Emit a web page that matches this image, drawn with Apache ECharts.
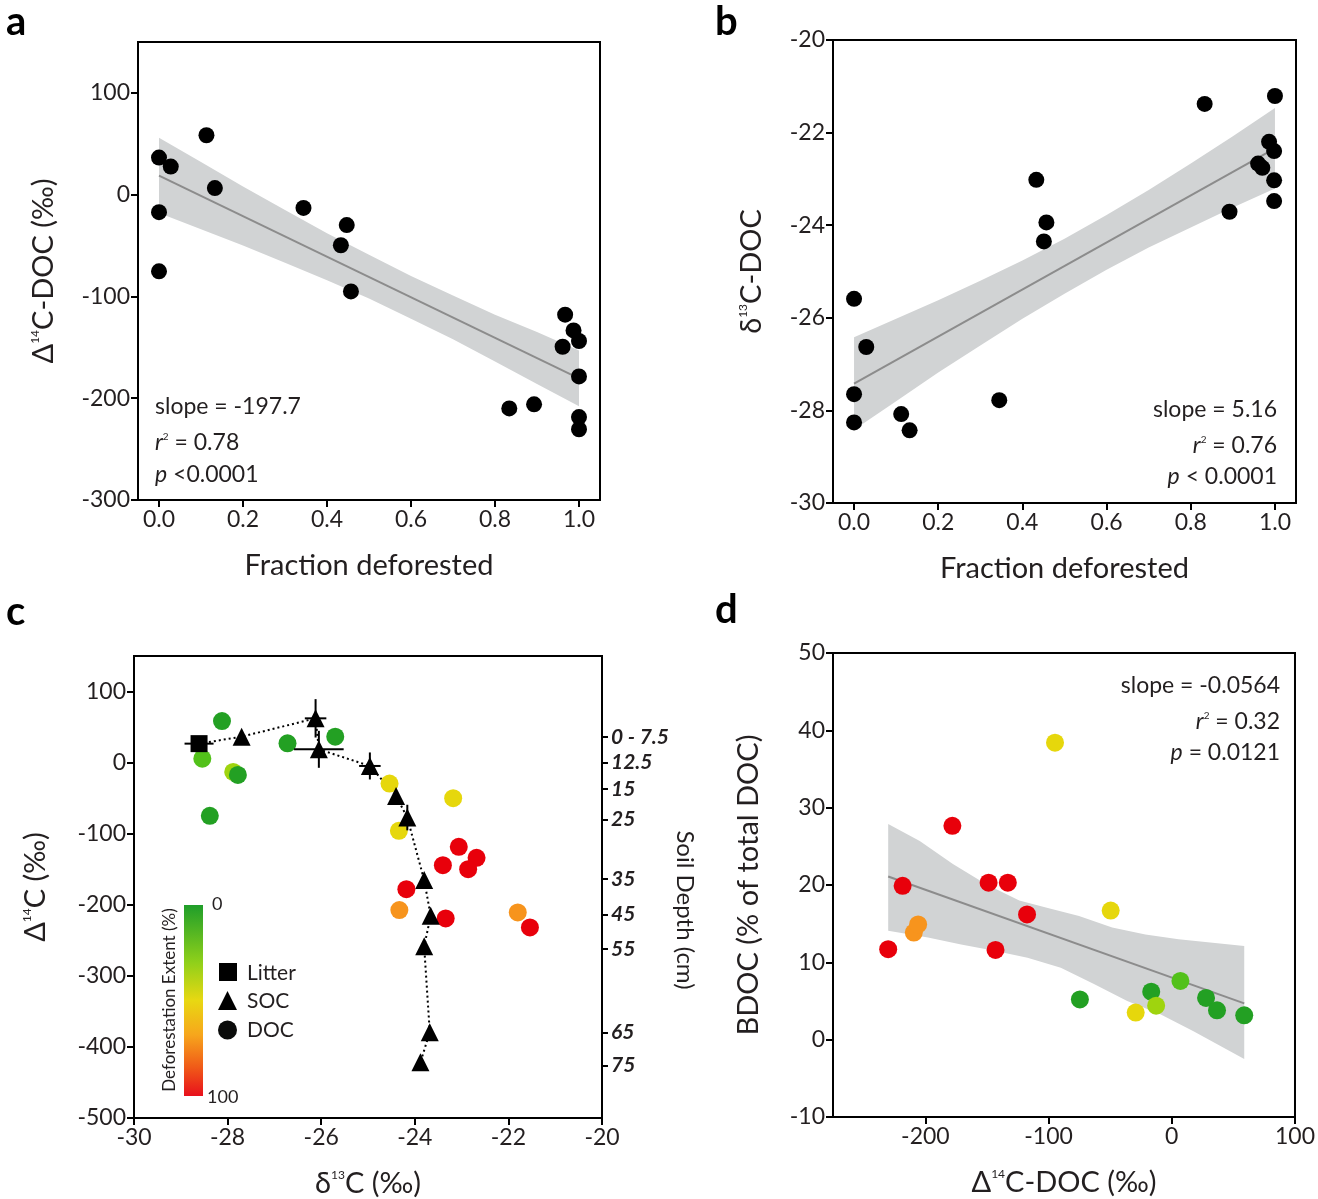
<!DOCTYPE html>
<html><head><meta charset="utf-8">
<script src="https://cdn.jsdelivr.net/npm/echarts@6.0.0/dist/echarts.min.js"></script>
<style>html,body{margin:0;padding:0;background:#fff}#c{width:1318px;height:1199px}</style>
</head><body><div id="c"></div>
<script>
// ---------- Panel a: fraction deforested vs Δ14C-DOC ----------
const fracA = [0, 0.028, 0.113, 0.133, 0, 0, 0.344, 0.447, 0.433, 0.457, 0.967, 0.987, 1, 0.961, 1, 0.834, 0.893, 1, 1];
const d14cA = [36.4, 27.6, 58.4, 6.5, -17.2, -75.3, -13, -29.9, -49.7, -95.1, -117.9, -133.4, -143.8, -149.4, -178.6, -210, -206, -218.5, -230.5];
const fitAX = [0, 1];
const fitAY = [18.8, -180.5];
const bandAX = [0, 0.1, 0.2, 0.3, 0.4, 0.5, 0.6, 0.7, 0.8, 0.9, 1.0];
const bandAUp = [56, 32, 8, -15, -38, -59, -80, -99, -118, -135, -153];
const bandALo = [-18, -34, -50, -67, -84, -102, -122, -142, -164, -186, -208];
const ticksAX = [0, 0.2, 0.4, 0.6, 0.8, 1.0];
const ticksAY = [-300, -200, -100, 0, 100];

// ---------- Panel b: fraction deforested vs δ13C-DOC ----------
const fracB = [0.833, 1.0, 0.986, 0.998, 0.96, 0.97, 0.998, 0.998, 0.892, 0.433, 0.457, 0.451, 0, 0.029, 0, 0, 0.112, 0.132, 0.345];
const d13cB = [-21.38, -21.21, -22.2, -22.4, -22.67, -22.76, -23.03, -23.48, -23.71, -23.02, -23.94, -24.35, -25.59, -26.63, -27.65, -28.26, -28.08, -28.43, -27.78];
const fitBX = [0, 1];
const fitBY = [-27.42, -22.34];
const bandBX = [0, 0.1, 0.2, 0.3, 0.4, 0.5, 0.6, 0.7, 0.8, 0.9, 1.0];
const bandBUp = [-26.42, -26.02, -25.62, -25.20, -24.76, -24.29, -23.78, -23.24, -22.67, -22.08, -21.47];
const bandBLo = [-28.42, -27.80, -27.18, -26.60, -26.02, -25.48, -24.96, -24.48, -24.05, -23.62, -23.21];
const ticksBX = [0, 0.2, 0.4, 0.6, 0.8, 1.0];

// ---------- Panel c: δ13C vs Δ14C ----------
const docD13C = [-28.12, -25.70, -26.72, -28.54, -27.88, -27.78, -28.38, -24.54, -23.18, -24.34, -23.06, -22.68, -23.4, -22.86, -24.18, -24.33, -23.34, -21.8, -21.54];
const docD14C = [58.5, 36.5, 27.2, 5.6, -13.1, -17.3, -74.9, -29.5, -50.1, -96, -118.5, -134, -144.3, -149.9, -178, -207.5, -219.2, -210.8, -231.9];
const docDefor = [11, 0, 3, 13, 34, 0, 0, 45, 43, 46, 97, 99, 100, 96, 100, 89, 100, 83, 100];
const socD13C = [-27.70, -26.12, -26.05, -24.96, -24.4, -24.16, -23.8, -23.66, -23.8, -23.68, -23.88];
const socD14C = [36.5, 62.3, 18.7, -4.7, -46.8, -77.3, -165.3, -215.5, -258.5, -379.4, -421.5];
const socErrX = [0, 0.23, 0.53, 0.23, 0, 0, 0, 0, 0, 0, 0];
const socErrY = [0, 27, 26, 19, 0, 18, 0, 0, 0, 0, 0];
const litterD13C = [-28.61];
const litterD14C = [26.7];
const litterErrX = [0.31];
const depthLabels = ['0 - 7.5', '12.5', '15', '25', '35', '45', '55', '65', '75'];
const depthPos = [36, 0, -37, -80, -164, -214, -262, -380, -426];
const ticksCY = [-500, -400, -300, -200, -100, 0, 100];

// ---------- Panel d: Δ14C-DOC vs BDOC ----------
const bdocD14C = [-230.2, -218.5, -209.4, -205.9, -178.1, -148.7, -133.1, -143.1, -117.5, -94.8, -49.6, -29.3, -74.6, -16.7, -12.7, 7.0, 27.8, 36.7, 58.8];
const bdoc = [11.7, 19.9, 13.85, 14.9, 27.65, 20.3, 20.3, 11.6, 16.2, 38.4, 16.7, 3.5, 5.2, 6.2, 4.4, 7.6, 5.4, 3.8, 3.15];
const bdocDefor = [100, 100, 83, 89, 100, 96, 99, 100, 97, 46, 43, 45, 0, 0, 34, 13, 3, 0, 11];
const fitDX = [-230.2, 58.8];
const fitDY = [21.1, 4.7];
const bandDUpX = [-230.2, -204.6, -177.7, -150.7, -123.8, -102.2, -75.3, -48.4, -21.4, 5.5, 58.8];
const bandDUp = [27.9, 25.7, 22.7, 20.1, 18.0, 17.1, 16.0, 14.5, 13.6, 13.0, 12.1];
const bandDLoX = [-230.2, -197.9, -171, -144, -117.1, -90.1, -63.2, -36.2, -9.3, 17.6, 58.8];
const bandDLo = [14.1, 13.2, 12.3, 11.5, 10.6, 9.3, 7.2, 5.0, 3.3, 1.1, -2.5];
const ticksDX = [-200, -100, 0, 100];

// ---------- helpers ----------
const FONT = 'Lato';
const INK = '#231f20';
const BAND = '#d1d3d4';
const FIT = '#8c8c8c';
const TICK_FS = 23;
const NAME_FS = 29;
const zip = (...arrs) => arrs[0].map((_, i) => arrs.map(a => a[i]));

const nameRich = {
  t: { fontSize: NAME_FS, fontFamily: FONT, color: INK },
  s: { fontSize: 12, fontFamily: FONT, color: INK, verticalAlign: 'top', padding: [0, 0, 16, 0] }
};

function tickStyle(custom) {
  const t = { show: true, length: 7, lineStyle: { color: '#000', width: 2 } };
  if (custom) t.customValues = custom;
  return t;
}
function labelStyle(custom, fmt) {
  const l = { color: INK, fontSize: TICK_FS, fontFamily: FONT, margin: 8 };
  if (custom) l.customValues = custom;
  if (fmt) l.formatter = fmt;
  return l;
}

function axisBase(extra) {
  return Object.assign({
    type: 'value',
    axisLine: { show: true, onZero: false, lineStyle: { color: '#000', width: 2 } },
    axisTick: tickStyle(),
    axisLabel: labelStyle(),
    splitLine: { show: false },
    nameLocation: 'middle',
    nameTextStyle: { fontSize: NAME_FS, fontFamily: FONT, color: INK, rich: nameRich }
  }, extra);
}

function bandSeries(xi, yi, xsUp, up, xsLo, lo) {
  return {
    type: 'custom', xAxisIndex: xi, yAxisIndex: yi, silent: true, z: 1,
    data: [[xsUp[0], up[0]]],
    renderItem: function (params, api) {
      const pts = [];
      for (let i = 0; i < xsUp.length; i++) pts.push(api.coord([xsUp[i], up[i]]));
      for (let i = xsLo.length - 1; i >= 0; i--) pts.push(api.coord([xsLo[i], lo[i]]));
      return { type: 'polygon', shape: { points: pts }, style: { fill: BAND } };
    }
  };
}

function fitSeries(xi, yi, xs, ys) {
  return {
    type: 'line', xAxisIndex: xi, yAxisIndex: yi, data: zip(xs, ys), showSymbol: false, silent: true, z: 2,
    lineStyle: { color: FIT, width: 2 }
  };
}

const chart = echarts.init(document.getElementById('c'), null, { renderer: 'canvas' });

const option = {
  animation: false,
  backgroundColor: '#fff',
  grid: [
    { left: 138, top: 42, width: 462, height: 458, show: true, borderColor: '#000', borderWidth: 2, backgroundColor: 'transparent' },
    { left: 833, top: 40, width: 463, height: 463, show: true, borderColor: '#000', borderWidth: 2, backgroundColor: 'transparent' },
    { left: 134, top: 656, width: 468, height: 463, show: true, borderColor: '#000', borderWidth: 2, backgroundColor: 'transparent' },
    { left: 833, top: 653, width: 464, height: 464, show: true, borderColor: '#000', borderWidth: 2, backgroundColor: 'transparent' }
  ],
  xAxis: [
    axisBase({ gridIndex: 0, min: -0.05, max: 1.05, name: 'Fraction deforested', nameGap: 51,
      axisLabel: labelStyle(ticksAX, v => v.toFixed(1)), axisTick: tickStyle(ticksAX) }),
    axisBase({ gridIndex: 1, min: -0.05, max: 1.05, name: 'Fraction deforested', nameGap: 51,
      axisLabel: labelStyle(ticksBX, v => v.toFixed(1)), axisTick: tickStyle(ticksBX) }),
    axisBase({ gridIndex: 2, min: -30, max: -20, interval: 2, name: '{t|δ}{s|13}{t|C (‰)}', nameGap: 51 }),
    axisBase({ gridIndex: 3, min: -275, max: 100, name: '{t|Δ}{s|14}{t|C-DOC (‰)}', nameGap: 51,
      axisLabel: labelStyle(ticksDX), axisTick: tickStyle(ticksDX) })
  ],
  yAxis: [
    axisBase({ gridIndex: 0, min: -300, max: 150, name: '{t|Δ}{s|14}{t|C-DOC (‰)}', nameGap: 80,
      axisLabel: labelStyle(ticksAY), axisTick: tickStyle(ticksAY) }),
    axisBase({ gridIndex: 1, min: -30, max: -20, interval: 2, name: '{t|δ}{s|13}{t|C-DOC}', nameGap: 67 }),
    axisBase({ gridIndex: 2, min: -500, max: 150, name: '{t|Δ}{s|14}{t|C (‰)}', nameGap: 84,
      axisLabel: labelStyle(ticksCY), axisTick: tickStyle(ticksCY) }),
    axisBase({ gridIndex: 3, min: -10, max: 50, interval: 10, name: 'BDOC (% of total DOC)', nameGap: 70 }),
    axisBase({ gridIndex: 2, position: 'right', min: -500, max: 150, name: 'Soil Depth (cm)', nameGap: 62, nameRotate: -90,
      nameTextStyle: { fontSize: 24, fontFamily: FONT, color: INK, padding: [0, 0, 0, 46] },
      axisLabel: { color: INK, fontSize: 21, fontFamily: FONT, fontWeight: 'bold', fontStyle: 'italic', margin: 9,
        customValues: depthPos,
        formatter: v => { let b = 0; depthPos.forEach((p, i) => { if (Math.abs(p - v) < Math.abs(depthPos[b] - v)) b = i; }); return depthLabels[b]; } },
      axisTick: { show: true, length: 6, lineStyle: { color: '#000', width: 2 }, customValues: depthPos } })
  ],
  visualMap: [{
    type: 'piecewise', show: false, dimension: 2, seriesIndex: [8, 13],
    pieces: [
      { lte: 12, color: '#23a023' },
      { gt: 12, lte: 25, color: '#52c11a' },
      { gt: 25, lte: 40, color: '#9fd40e' },
      { gt: 40, lte: 70, color: '#e6d70c' },
      { gt: 70, lte: 93, color: '#f7941d' },
      { gt: 93, color: '#e8000b' }
    ]
  }],
  series: [
    // 0-2 panel a
    bandSeries(0, 0, bandAX, bandAUp, bandAX, bandALo),
    fitSeries(0, 0, fitAX, fitAY),
    { type: 'scatter', xAxisIndex: 0, yAxisIndex: 0, data: zip(fracA, d14cA), symbolSize: 16, itemStyle: { color: '#000', opacity: 1 }, z: 3 },
    // 3-5 panel b
    bandSeries(1, 1, bandBX, bandBUp, bandBX, bandBLo),
    fitSeries(1, 1, fitBX, fitBY),
    { type: 'scatter', xAxisIndex: 1, yAxisIndex: 1, data: zip(fracB, d13cB), symbolSize: 16, itemStyle: { color: '#000', opacity: 1 }, z: 3 },
    // 6 panel c dotted path litter -> SOC
    { type: 'line', xAxisIndex: 2, yAxisIndex: 2, showSymbol: false, silent: true, z: 2,
      data: zip(litterD13C.concat(socD13C), litterD14C.concat(socD14C)),
      lineStyle: { color: '#000', width: 2, type: [2, 3] } },
    // 7 error bars
    { type: 'custom', xAxisIndex: 2, yAxisIndex: 2, silent: true, z: 4,
      data: zip(socD13C, socD14C, socErrX, socErrY).concat(zip(litterD13C, litterD14C, litterErrX, [0])),
      encode: { x: 0, y: 1 },
      renderItem: function (params, api) {
        const x = api.value(0), y = api.value(1), ex = api.value(2), ey = api.value(3);
        const ch = [];
        if (ex > 0) { const a = api.coord([x - ex, y]), b = api.coord([x + ex, y]); ch.push({ type: 'line', shape: { x1: a[0], y1: a[1], x2: b[0], y2: b[1] }, style: { stroke: '#000', lineWidth: 2 } }); }
        if (ey > 0) { const a = api.coord([x, y - ey]), b = api.coord([x, y + ey]); ch.push({ type: 'line', shape: { x1: a[0], y1: a[1], x2: b[0], y2: b[1] }, style: { stroke: '#000', lineWidth: 2 } }); }
        return { type: 'group', children: ch };
      } },
    // 8 DOC circles
    { type: 'scatter', xAxisIndex: 2, yAxisIndex: 2, data: zip(docD13C, docD14C, docDefor), symbolSize: 18, itemStyle: { opacity: 1 }, z: 3 },
    // 9 SOC triangles
    { type: 'scatter', xAxisIndex: 2, yAxisIndex: 2, data: zip(socD13C, socD14C), symbol: 'triangle', symbolSize: 18, itemStyle: { color: '#000', opacity: 1 }, z: 5 },
    // 10 litter square
    { type: 'scatter', xAxisIndex: 2, yAxisIndex: 2, data: zip(litterD13C, litterD14C), symbol: 'rect', symbolSize: 17, itemStyle: { color: '#000', opacity: 1 }, z: 5 },
    // 11-13 panel d
    bandSeries(3, 3, bandDUpX, bandDUp, bandDLoX, bandDLo),
    fitSeries(3, 3, fitDX, fitDY),
    { type: 'scatter', xAxisIndex: 3, yAxisIndex: 3, data: zip(bdocD14C, bdoc, bdocDefor), symbolSize: 18, itemStyle: { opacity: 1 }, z: 3 }
  ],
  graphic: []
};

const statRich = {
  i: { fontStyle: 'italic', fontSize: 23, fontFamily: FONT, fill: INK },
  s: { fontSize: 10, fontFamily: FONT, fill: INK, verticalAlign: 'top', padding: [0, 0, 13, 0] },
  n: { fontSize: 23, fontFamily: FONT, fill: INK }
};
function txt(x, y, text, align) {
  return { type: 'text', x: x, y: y, silent: true, z: 100,
    style: { text: text, fill: INK, font: '23px ' + FONT, align: align || 'left', verticalAlign: 'middle', rich: statRich } };
}
function letter(x, y, t) {
  return { type: 'text', x: x, y: y, z: 100, style: { text: t, fill: '#000', font: 'bold 40px ' + FONT, align: 'left', verticalAlign: 'middle' } };
}
function plain(x, y, t, size, extra) {
  return Object.assign({ type: 'text', x: x, y: y, z: 100, style: { text: t, fill: INK, font: size + 'px ' + FONT, align: 'left', verticalAlign: 'middle' } }, extra || {});
}

option.graphic = [
  letter(6, 22, 'a'), letter(715, 22, 'b'), letter(6, 612, 'c'), letter(715, 610, 'd'),
  // panel a stats
  txt(155, 407, '{n|slope = -197.7}'),
  txt(155, 443, '{i|r}{s|2}{n| = 0.78}'),
  txt(155, 475, '{i|p}{n| <0.0001}'),
  // panel b stats
  txt(1277, 410, '{n|slope = 5.16}', 'right'),
  txt(1277, 446, '{i|r}{s|2}{n| = 0.76}', 'right'),
  txt(1277, 477, '{i|p}{n| < 0.0001}', 'right'),
  // panel d stats
  txt(1280, 686, '{n|slope = -0.0564}', 'right'),
  txt(1280, 722, '{i|r}{s|2}{n| = 0.32}', 'right'),
  txt(1280, 753, '{i|p}{n| = 0.0121}', 'right'),
  // panel c legend: colour bar
  { type: 'rect', z: 100, shape: { x: 184, y: 905, width: 19, height: 191 },
    style: { fill: { type: 'linear', x: 0, y: 0, x2: 0, y2: 1, colorStops: [
      { offset: 0, color: '#1f9e2a' }, { offset: 0.3, color: '#8fd01a' }, { offset: 0.5, color: '#e8d812' },
      { offset: 0.68, color: '#f7a61c' }, { offset: 0.85, color: '#f05a18' }, { offset: 1, color: '#e8101c' }] } } },
  plain(212, 904, '0', 18),
  plain(207, 1097, '100', 18),
  plain(170, 1000, 'Deforestation Extent (%)', 17, { rotation: Math.PI / 2 }),
  { type: 'rect', z: 100, shape: { x: 219, y: 963, width: 18, height: 18 }, style: { fill: '#000' } },
  { type: 'polygon', z: 100, shape: { points: [[227.5, 991], [237, 1010], [218, 1010]] }, style: { fill: '#000' } },
  { type: 'circle', z: 100, shape: { cx: 227.5, cy: 1030, r: 9.5 }, style: { fill: '#0b0c0b' } },
  plain(247, 973, 'Litter', 21),
  plain(247, 1001, 'SOC', 21),
  plain(247, 1030, 'DOC', 21)
];
// centre the rotated colour-bar title on its anchor
option.graphic.forEach(g => { if (g.style && g.style.text === 'Deforestation Extent (%)') g.style.align = 'center'; });

chart.setOption(option);
</script>
</body></html>
